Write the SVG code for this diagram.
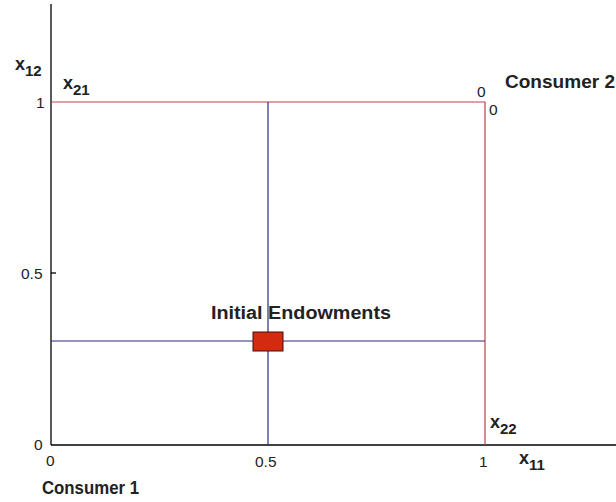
<svg xmlns="http://www.w3.org/2000/svg" width="616" height="502" viewBox="0 0 616 502">
<style>
.ax{stroke:#000;stroke-width:1.3;fill:none}
.red{stroke:#c0404a;stroke-width:1.2;fill:none}
.blue{stroke:#2a2a80;stroke-width:1.2;fill:none}
.tk{font-family:"Liberation Sans",Arial,sans-serif;font-size:15.5px;fill:#222}
.lb{font-family:"Liberation Sans",Arial,sans-serif;font-size:18px;font-weight:bold;fill:#222}
.sub{font-size:15px}
</style>
<rect width="616" height="502" fill="#fff"/>
<g id="axes">
<line class="ax" x1="51" y1="4" x2="51" y2="445"/>
<line class="ax" x1="51" y1="445" x2="616" y2="445"/>
<line class="ax" x1="51" y1="273" x2="56" y2="273"/>
</g>
<g id="connectors">
<polyline class="red" points="51,102 485,102 485,445"/>
<line class="blue" x1="268" y1="102" x2="268" y2="445"/>
<line class="blue" x1="51" y1="341" x2="485" y2="341"/>
</g>
<g id="endowment">
<rect x="253" y="332" width="30" height="19" fill="#d42a10" stroke="#401010" stroke-width="1"/>
<text class="lb" x="211" y="319" textLength="180" lengthAdjust="spacingAndGlyphs">Initial Endowments</text>
</g>
<g id="ticks">
<text class="tk" x="36" y="108">1</text>
<text class="tk" x="21" y="279">0.5</text>
<text class="tk" x="34" y="450">0</text>
<text class="tk" x="46" y="466">0</text>
<text class="tk" x="255" y="467">0.5</text>
<text class="tk" x="479" y="467">1</text>
<text class="tk" x="477" y="97">0</text>
<text class="tk" x="489" y="115">0</text>
</g>
<g id="labels">
<text class="lb" x="15" y="70">x<tspan class="sub" dy="6">12</tspan></text>
<text class="lb" x="63" y="89">x<tspan class="sub" dy="6">21</tspan></text>
<text class="lb" x="490" y="428">x<tspan class="sub" dy="6">22</tspan></text>
<text class="lb" x="519" y="464">x<tspan class="sub" dy="6">11</tspan></text>
<text class="lb" x="505" y="88" textLength="110" lengthAdjust="spacingAndGlyphs">Consumer 2</text>
<text class="lb" x="42" y="494" textLength="97" lengthAdjust="spacingAndGlyphs">Consumer 1</text>
</g>
</svg>
